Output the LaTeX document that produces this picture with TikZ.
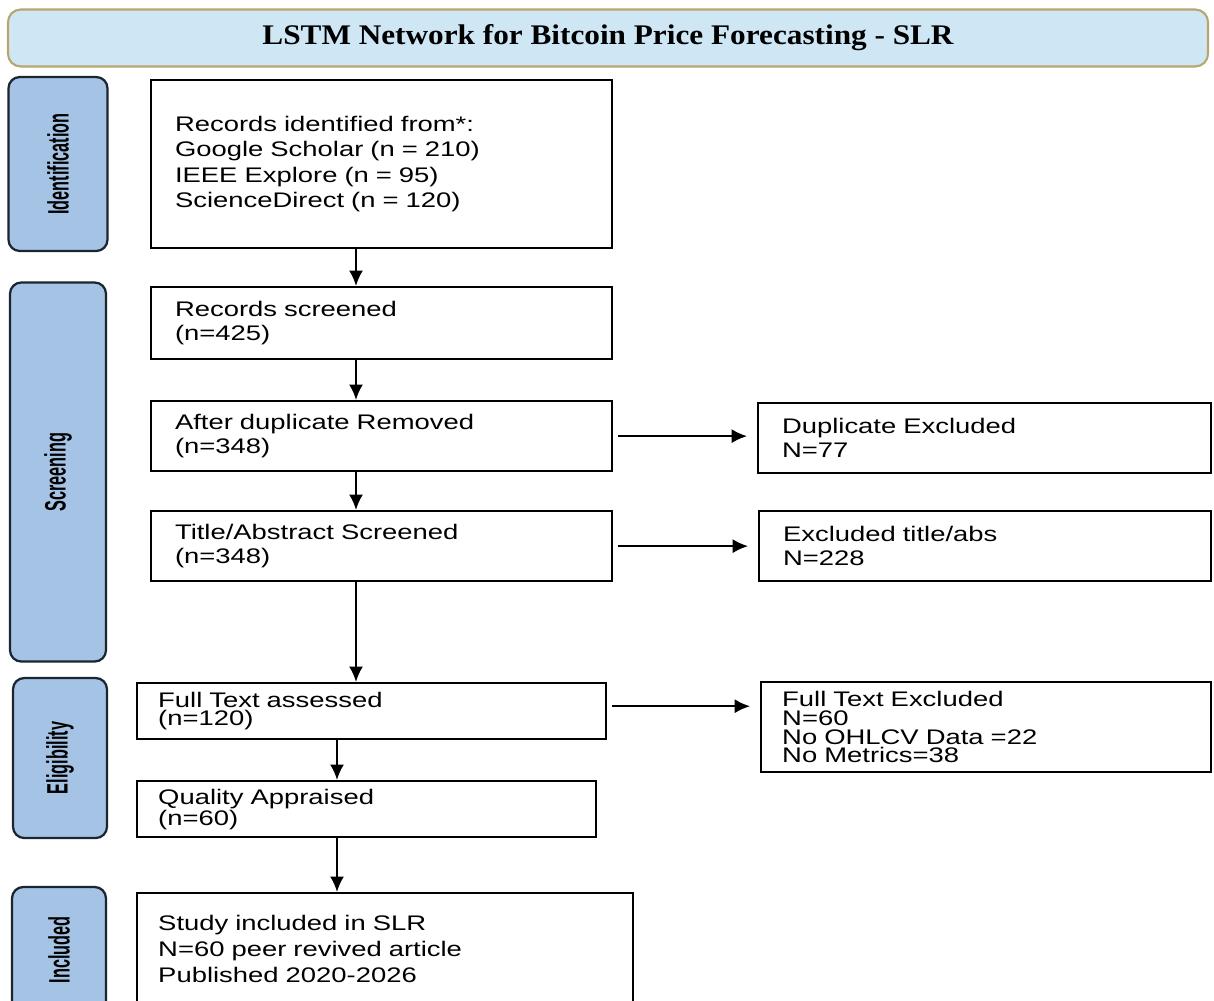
\documentclass[tikz,border=0pt]{standalone}
\usepackage{fontspec}
\setmainfont[FakeStretch=1.3]{Liberation Sans}
\newfontfamily\titlefont[FakeStretch=1.1]{Liberation Serif}
\newfontfamily\stagefont[FakeStretch=0.55]{Liberation Sans}
\usetikzlibrary{arrows.meta}
\definecolor{bannerfill}{HTML}{CFE6F5}
\definecolor{bannerdraw}{HTML}{B9A66E}
\definecolor{stagefill}{HTML}{A5C3E5}
\definecolor{stagedraw}{HTML}{1C2430}
\newcommand{\pxl}{0.025cm}

\begin{document}
\begin{tikzpicture}[x=\pxl,y=-\pxl,
  banner/.style={draw=bannerdraw,fill=bannerfill,line width=1.5pt,rounded corners=9pt,minimum width=1200*\pxl,minimum height=57*\pxl,font=\titlefont\bfseries\fontsize{20.2}{24}\selectfont},
  stage/.style={draw=stagedraw,fill=stagefill,line width=1.6pt,rounded corners=8pt,rotate=90,inner sep=0pt,font=\stagefont\bfseries\fontsize{21}{24}\selectfont},
  recbox/.style={draw,line width=1.6pt,anchor=north west,align=left,inner ysep=0pt},
  upbox/.style 2 args={recbox,inner xsep=17pt,text width=#1*\pxl-34pt,minimum height=#2*\pxl,font=\fontsize{15}{17}\selectfont},
  lowbox/.style 2 args={recbox,inner xsep=15pt,text width=#1*\pxl-30pt,minimum height=#2*\pxl,font=\fontsize{15}{13.3}\selectfont},
  arr/.style={-{Latex[length=11pt,width=10pt]},line width=1.6pt},
  side/.style={shorten <=3.5pt,shorten >=7pt}]
 \useasboundingbox (0,0) rectangle (1214,1000);
 \node[banner] (title) at (608,38) {LSTM Network for Bitcoin Price Forecasting - SLR};
 \node[stage,minimum width=174*\pxl,minimum height=99*\pxl] (ident) at (58,164) {Identification};
 \node[stage,minimum width=379*\pxl,minimum height=96*\pxl] (screen) at (58,472) {Screening};
 \node[stage,minimum width=160*\pxl,minimum height=94*\pxl] (elig) at (60,758) {Eligibility};
 \node[stage,minimum width=126*\pxl,minimum height=94*\pxl] (incl) at (59,950) {Included};

 \node[upbox={461}{168},font=\fontsize{15}{18}\selectfont] (rid) at (150,79) {Records identified from*:\\Google Scholar (n = 210)\\IEEE Explore (n = 95)\\ScienceDirect (n = 120)};
 \node[upbox={461}{72}] (rsc) at (150,286) {Records screened\\(n=425)};
 \node[upbox={461}{70}] (dup) at (150,400) {After duplicate Removed\\(n=348)};
 \node[upbox={461}{70}] (tas) at (150,510) {Title/Abstract Screened\\(n=348)};
 \node[upbox={453}{70}] (dex) at (757,402) {Duplicate Excluded\\N=77};
 \node[upbox={452}{70}] (tex) at (758,510) {Excluded title/abs\\N=228};
 \node[lowbox={469}{56}] (fta) at (136,682) {Full Text assessed\\(n=120)};
 \node[lowbox={450}{90}] (fte) at (760,681) {Full Text Excluded\\N=60\\No OHLCV Data =22\\No Metrics=38};
 \node[lowbox={459}{56}] (qap) at (136,780) {Quality Appraised\\(n=60)};
 \node[lowbox={496}{112},font=\fontsize{15}{18.5}\selectfont] (sin) at (136,892) {Study included in SLR\\N=60 peer revived article\\Published 2020-2026};

 \coordinate (upcol) at (356,0);
 \coordinate (lowcol) at (337,0);
 \coordinate (ftout) at ([yshift=3.5pt]fta.east);
 \path[arr]
   (rid.south -| upcol) edge (rsc.north -| upcol)
   (rsc.south -| upcol) edge (dup.north -| upcol)
   (dup.south -| upcol) edge (tas.north -| upcol)
   (tas.south -| upcol) edge (fta.north -| upcol)
   (fta.south -| lowcol) edge (qap.north -| lowcol)
   (qap.south -| lowcol) edge (sin.north -| lowcol)
   (dup.east) edge[side] (dex.west |- dup.east)
   (tas.east) edge[side] (tex.west |- tas.east)
   (ftout) edge[side] (fte.west |- ftout);
\end{tikzpicture}
\end{document}
